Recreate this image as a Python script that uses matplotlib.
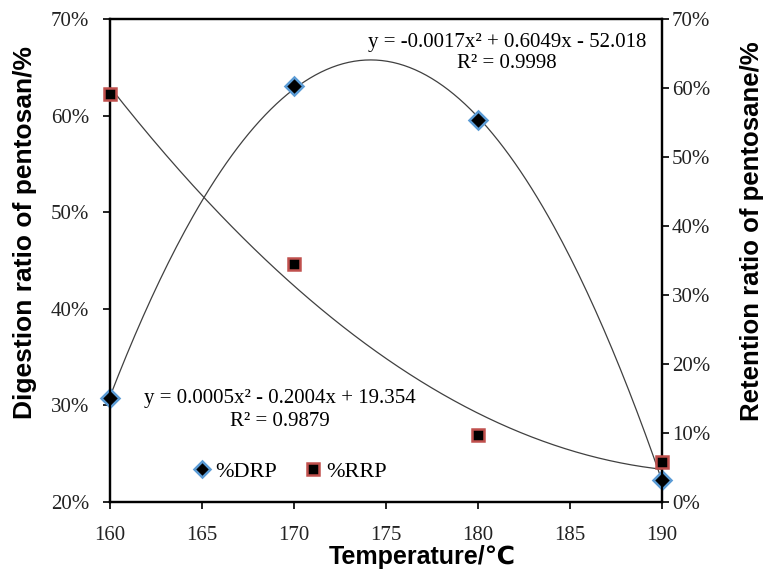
import numpy as np
import matplotlib
matplotlib.use("Agg")
import matplotlib.pyplot as plt
from matplotlib.ticker import PercentFormatter
from matplotlib.lines import Line2D

temps = [160, 170, 180, 190]
drp = [0.308, 0.631, 0.595, 0.223]   # digestion ratio, left axis
rrp = [0.591, 0.345, 0.097, 0.058]   # retention ratio, right axis

eq_drp = ["y = -0.0017x² + 0.6049x - 52.018", "R² = 0.9998"]
eq_rrp = ["y = 0.0005x² - 0.2004x + 19.354", "R² = 0.9879"]

serif = ["Liberation Serif", "DejaVu Serif"]
sans = ["Liberation Sans", "DejaVu Sans"]

fig = plt.figure(figsize=(7.65, 5.73), dpi=100)
ax = fig.add_axes([0.1438, 0.1239, 0.7216, 0.8429])
ax2 = ax.twinx()

xs = np.linspace(160, 190, 200)
c1 = np.polyfit(temps, drp, 2)
c2 = np.polyfit(temps, rrp, 2)
ax.plot(xs, np.polyval(c1, xs), color="#404040", lw=0.9, zorder=2)
ax2.plot(xs, np.polyval(c2, xs), color="#404040", lw=0.9, zorder=2)

ax.plot(temps, drp, ls="none", marker="D", ms=9, mfc="black", mec="#5b9bd5",
        mew=1.8, zorder=5, clip_on=False)
ax2.plot(temps, rrp, ls="none", marker="s", ms=9, mfc="black", mec="#c0504d",
         mew=1.8, zorder=5, clip_on=False)

ax.set_xlim(160, 190)
ax.set_ylim(0.2, 0.7)
ax2.set_ylim(0, 0.7)
ax.set_xticks([160, 165, 170, 175, 180, 185, 190])
ax.set_yticks(np.arange(0.2, 0.71, 0.1))
ax2.set_yticks(np.arange(0, 0.71, 0.1))
ax.yaxis.set_major_formatter(PercentFormatter(1, decimals=0))
ax2.yaxis.set_major_formatter(PercentFormatter(1, decimals=0))

for a in (ax, ax2):
    for s in a.spines.values():
        s.set_linewidth(1.6)
    a.tick_params(direction="out", length=5, width=1.4, labelsize=15, colors="#222222")
    for lab in a.get_xticklabels() + a.get_yticklabels():
        lab.set_family(serif)
ax.tick_params(axis="x", pad=12)
ax.tick_params(axis="y", pad=10)
ax2.tick_params(axis="y", pad=2)

ax.set_xlabel("Temperature/℃", family=sans, fontweight="bold", fontsize=18)
ax.set_ylabel("Digestion ratio of pentosan/%", family=sans, fontweight="bold", fontsize=19)
ax2.set_ylabel("Retention ratio of pentosane/%", family=sans, fontweight="bold", fontsize=18.5)
ax.xaxis.set_label_coords(0.565, -0.088)
ax.yaxis.set_label_coords(-0.133, 0.559)
ax2.yaxis.set_label_coords(1.141, 0.561)

for txt, yy in zip(eq_drp, [0.952, 0.907]):
    ax.text(0.719, yy, txt, transform=ax.transAxes, ha="center", va="center",
            family=serif, fontsize=15)
for txt, yy in zip(eq_rrp, [0.215, 0.166]):
    ax.text(0.307, yy, txt, transform=ax.transAxes, ha="center", va="center",
            family=serif, fontsize=15)

handles = [
    Line2D([], [], ls="none", marker="D", ms=8, mfc="black", mec="#5b9bd5", mew=1.8),
    Line2D([], [], ls="none", marker="s", ms=8, mfc="black", mec="#c0504d", mew=1.8),
]
ax.legend(handles, ["%DRP", "%RRP"], loc="lower left", bbox_to_anchor=(0.107, 0.0),
          ncol=2, frameon=False, prop={"family": serif, "size": 16},
          handletextpad=0.0, columnspacing=1.0, handlelength=1.2)

fig.savefig("out.png", dpi=100)
